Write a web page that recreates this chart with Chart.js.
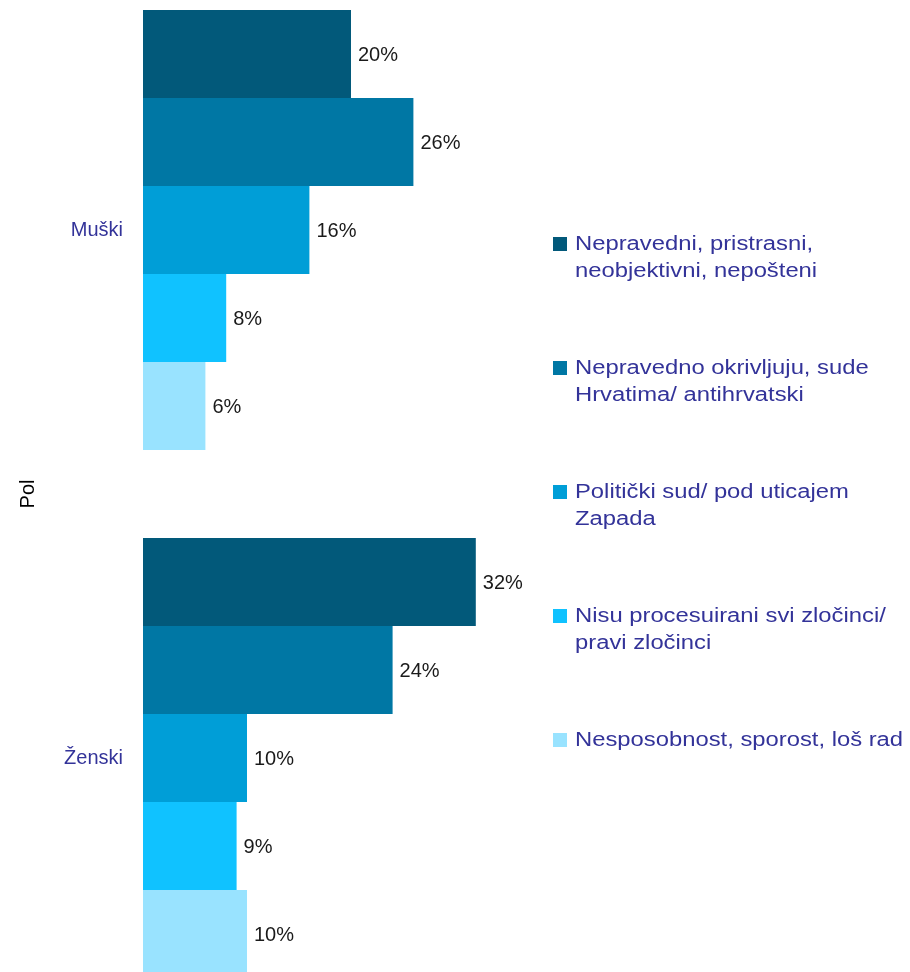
<!DOCTYPE html>
<html>
<head>
<meta charset="utf-8">
<script src="https://cdn.jsdelivr.net/npm/chart.js@4/dist/chart.umd.min.js"></script>
<style>
  html, body { margin: 0; padding: 0; background: #fff; width: 910px; height: 972px; overflow: hidden; }
  /* la zone du graphique dépasse la fenêtre en haut et en bas (image recadrée) */
  #graphDiv { position: absolute; left: 0; top: -66px; width: 559px; height: 1120px; }
  #legend { position: absolute; left: 553px; top: 0; width: 357px; font-family: Arial, "Liberation Sans", sans-serif; }
  .item { position: absolute; left: 0; font-size: 20px; line-height: 27px; color: #333399; }
  .item span.box { position: absolute; left: 0; top: 7px; width: 14px; height: 14px; }
  .item div.txt { margin-left: 22px; white-space: nowrap; transform: scaleX(1.19); transform-origin: 0 0; }
</style>
</head>
<body>
<div id="graphDiv"><canvas id="dataChart"></canvas></div>
<div id="legend"></div>
<script>
// categories (Pol)
const categories = ['Muški', 'Ženski'];
// razlozi (serije)
const reasons = [
    ['Nepravedni, pristrasni,', 'neobjektivni, nepošteni'],
    ['Nepravedno okrivljuju, sude', 'Hrvatima/ antihrvatski'],
    ['Politički sud/ pod uticajem', 'Zapada'],
    ['Nisu procesuirani svi zločinci/', 'pravi zločinci'],
    ['Nesposobnost, sporost, loš rad']
];
const muski = [20, 26, 16, 8, 6];
const zenski = [32, 24, 10, 9, 10];
const colors = ['#02597A', '#0077A4', '#009ED7', '#10C2FF', '#99E3FF'];

const FONT = 'Arial, "Liberation Sans", sans-serif';

// etiquettes de valeurs au bout des barres
const valueLabels = {
    id: 'valueLabels',
    afterDatasetsDraw(chart) {
        const ctx = chart.ctx;
        ctx.save();
        ctx.font = '20px ' + FONT;
        ctx.fillStyle = '#1a1a1a';
        ctx.textAlign = 'left';
        ctx.textBaseline = 'middle';
        chart.data.datasets.forEach((ds, i) => {
            chart.getDatasetMeta(i).data.forEach((bar, j) => {
                ctx.fillText(ds.data[j] + '%', bar.x + 7, bar.y + 1);
            });
        });
        ctx.restore();
    }
};

const ctx = document.getElementById('dataChart').getContext('2d');
const dataChart = new Chart(ctx, {
    type: 'bar',
    data: {
        labels: categories,
        datasets: reasons.map((r, i) => ({
            label: r.join(' '),
            data: [muski[i], zenski[i]],
            backgroundColor: colors[i],
            borderWidth: 0,
            categoryPercentage: 440 / 528,
            barPercentage: 1
        }))
    },
    options: {
        indexAxis: 'y',
        responsive: true,
        maintainAspectRatio: false,
        animation: false,
        layout: { padding: 0 },
        plugins: {
            legend: { display: false },
            tooltip: { enabled: false }
        },
        scales: {
            x: {
                display: false,
                min: 0,
                max: 40
            },
            y: {
                afterFit: (scale) => { scale.width = 143; },
                grid: { display: false, drawTicks: false },
                border: { display: false },
                ticks: {
                    color: '#333399',
                    font: { family: FONT, size: 20 },
                    padding: 20
                },
                title: {
                    display: true,
                    text: 'Pol',
                    color: '#000',
                    font: { family: FONT, size: 20 },
                    padding: { top: 16, bottom: 0 }
                }
            }
        }
    },
    plugins: [valueLabels]
});

// légende HTML (texte sur deux lignes)
const legend = document.getElementById('legend');
dataChart.data.datasets.forEach((ds, i) => {
    const item = document.createElement('div');
    item.className = 'item';
    item.style.top = (230 + i * 124) + 'px';
    const box = document.createElement('span');
    box.className = 'box';
    box.style.background = ds.backgroundColor;
    item.appendChild(box);
    const txt = document.createElement('div');
    txt.className = 'txt';
    txt.innerHTML = reasons[i].join('<br>');
    item.appendChild(txt);
    legend.appendChild(item);
});
</script>
</body>
</html>
